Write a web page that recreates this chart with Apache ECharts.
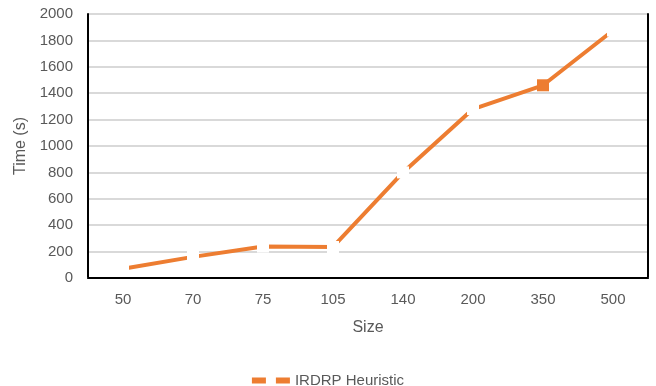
<!DOCTYPE html>
<html><head><meta charset="utf-8">
<script src="https://cdn.jsdelivr.net/npm/echarts@6/dist/echarts.min.js"></script>
<style>html,body{margin:0;padding:0;background:#fff}#c{width:656px;height:386px}</style>
</head><body><div id="c"></div>
<script>
const categories = ['50','70','75','105','140','200','350','500'];
const timeValues = [70, 160, 238, 235, 800, 1280, 1460, 1875];
const seriesName = 'IRDRP Heuristic';
const yTicks = {min:0, max:2000, interval:200};
const shownMarker = '350';

const ORANGE = '#ED7D31';
const chart = echarts.init(document.getElementById('c'), null, {renderer:'canvas'});
const font = 'Liberation Sans, sans-serif';
const frame = {show:true, lineStyle:{color:'#000', width:2}};
chart.setOption({
  animation:false,
  grid:{left:88, right:8, top:14, bottom:108},
  xAxis:[{type:'category', data:categories, boundaryGap:true,
    name:'Size', nameLocation:'middle', nameGap:42,
    nameTextStyle:{color:'#595959', fontSize:16, fontFamily:font},
    axisLine:{show:true, lineStyle:{color:'#a6a6a6', width:2}},
    axisTick:{show:false},
    axisLabel:{color:'#595959', fontSize:15, fontFamily:font, margin:14},
    splitLine:{show:false}},
    {type:'category', position:'top', data:categories, axisLine:frame, axisTick:{show:false}, axisLabel:{show:false}, splitLine:{show:false}}],
  yAxis:[{type:'value', min:yTicks.min, max:yTicks.max, interval:yTicks.interval,
    name:'Time (s)', nameLocation:'middle', nameGap:57,
    nameTextStyle:{color:'#595959', fontSize:16, fontFamily:font},
    axisLine:frame, axisTick:{show:false},
    axisLabel:{color:'#595959', fontSize:15, fontFamily:font, margin:15, formatter:v=>String(v)},
    splitLine:{lineStyle:{color:'#d9d9d9', width:2}}},
    {type:'value', position:'right', min:yTicks.min, max:yTicks.max, interval:yTicks.interval,
    axisLine:frame, axisTick:{show:false}, axisLabel:{show:false}, splitLine:{show:false}}],
  legend:{top:368, left:'center', itemWidth:38, itemHeight:6, itemGap:4,
    icon:'path://M0,0h14v6h-14z M24,0h14v6h-14z',
    itemStyle:{color:ORANGE},
    textStyle:{color:'#595959', fontSize:15, fontFamily:font},
    data:[{name:seriesName, itemStyle:{color:ORANGE}}]},
  series:[{name:seriesName, type:'line', z:10, symbol:'rect', symbolSize:12, showSymbol:true,
    lineStyle:{color:ORANGE, width:4}, itemStyle:{color:ORANGE, borderWidth:0},
    data: timeValues.map((v,i)=> categories[i]===shownMarker ? v : {value:v, itemStyle:{color:'#fff', borderWidth:0}})}]
});
</script></body></html>
